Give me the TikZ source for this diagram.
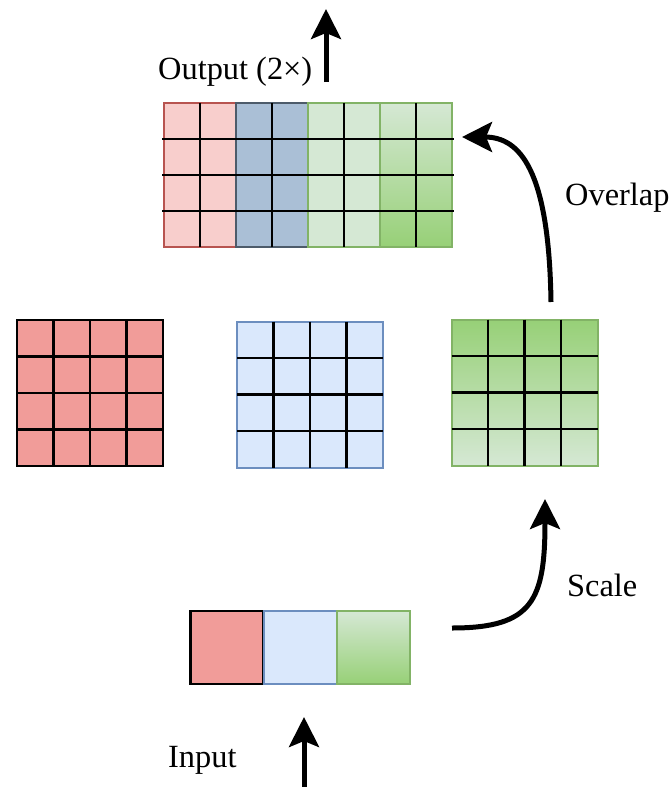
\documentclass[tikz,border=0pt]{standalone}
\usepackage{fontspec}
\setmainfont{Liberation Serif}
\newfontfamily\capfont{Liberation Serif}
\usetikzlibrary{arrows.meta,calc}

\definecolor{redfill}{HTML}{F19C99}
\definecolor{pinkfill}{HTML}{F8CECC}
\definecolor{pinkline}{HTML}{B85450}
\definecolor{bluefill}{HTML}{DAE8FC}
\definecolor{blueline}{HTML}{6C8EBF}
\definecolor{mixblue}{HTML}{AABFD6}
\definecolor{mixblueline}{HTML}{4D5B6A}
\definecolor{greenlight}{HTML}{D5E8D4}
\definecolor{greendark}{HTML}{97D077}
\definecolor{greenline}{HTML}{82B366}

\tikzset{
  cell/.style={rectangle, inner sep=0pt, outer sep=0pt, line width=2bp},
  bigcell/.style={cell, minimum width=146bp, minimum height=146bp},
  smallcell/.style={cell, minimum width=73bp, minimum height=73bp},
  halfcol/.style={cell, minimum width=72bp, minimum height=144bp},
  gridline/.style={black, line width=2.8bp},
  flow/.style={line width=5bp, -{Stealth[length=30bp, width=30bp, inset=6bp]}},
  caption/.style={inner sep=0pt, font=\capfont\fontsize{32.5}{38}\selectfont}
}

\begin{document}
\begin{tikzpicture}[x=1bp, y=-1bp]
  \useasboundingbox (0,0) rectangle (672,787);

  % upscaled 4x4 maps
  \node[bigcell, draw=black, line width=2.8bp, fill=redfill] (gR) at (90,393) {};
  \node[bigcell, draw=blueline, fill=bluefill] (gB) at (310,394.5) {};
  \node[bigcell, draw=greenline, top color=greendark, bottom color=greenlight] (gG) at (524.5,392.5) {};
  \foreach \g in {gR,gB,gG} {
    \foreach \k in {1,2,3} {
      \draw[gridline] ($(\g.north west)!\k/4!(\g.north east)$) -- ($(\g.south west)!\k/4!(\g.south east)$);
      \draw[gridline] ($(\g.north west)!\k/4!(\g.south west)$) -- ($(\g.north east)!\k/4!(\g.south east)$);
    }
  }

  % input pixels
  \node[smallcell, draw=black, line width=2.8bp, fill=redfill] (iR) at (227,647.5) {};
  \node[smallcell, draw=blueline, fill=bluefill] (iB) at (300,647.5) {};
  \node[smallcell, draw=greenline, top color=greenlight, bottom color=greendark] (iG) at (373.5,647.5) {};

  % overlapped output
  \node[halfcol, draw=pinkline, fill=pinkfill] (oR) at (200,175) {};
  \node[halfcol, draw=mixblueline, fill=mixblue] (oB) at (272,175) {};
  \node[halfcol, draw=greenline, fill=greenlight] (oG) at (344,175) {};
  \node[halfcol, draw=greenline, top color=greenlight, bottom color=greendark] (oH) at (416,175) {};
  \draw[greenline, line width=2bp] (oG.north west) rectangle (oH.south east);
  \foreach \o in {oR,oB,oG,oH} {
    \draw[gridline] (\o.north) -- (\o.south);
  }
  \foreach \k in {1,2,3} {
    \draw[gridline] ($(oR.north west)!\k/4!(oR.south west)+(-2,0)$) -- ($(oH.north east)!\k/4!(oH.south east)+(2,0)$);
  }

  % arrows
  \coordinate (outFoot) at (326,82);
  \coordinate (outTip) at (326,9);
  \coordinate (inFoot) at (304,787);
  \coordinate (inTip) at (304,717);
  \coordinate (scaleFoot) at (452,628);
  \coordinate (scaleTip) at (545,499);
  \coordinate (overFoot) at (551,302);
  \coordinate (overTip) at (462,137);

  \draw[flow] (outFoot) -- (outTip);
  \draw[flow] (inFoot) -- (inTip);
  \draw[flow] (scaleFoot) .. controls (533,628) and (545,600) .. (scaleTip);
  \draw[flow] (overFoot) .. controls (549,170) and (520,137) .. (overTip);

  % labels
  \node[caption, anchor=base west] (lOut) at (158,79) {Output (2×)};
  \node[caption, anchor=base west] (lIn) at (168,767) {Input};
  \node[caption, anchor=base west] (lScale) at (567,596) {Scale};
  \node[caption, anchor=base west] (lOver) at (565,205) {Overlap};
\end{tikzpicture}
\end{document}
